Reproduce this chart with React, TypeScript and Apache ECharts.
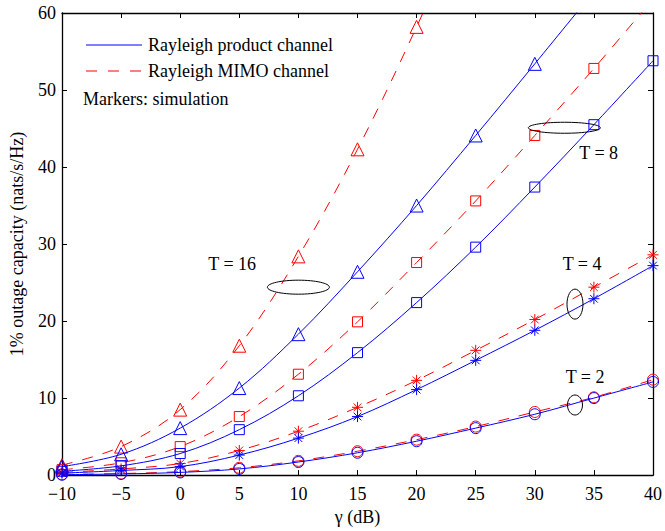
import React, { useEffect, useRef } from 'react';
import * as echarts from 'echarts';

// SNR grid (dB)
const gamma = [-10, -5, 0, 5, 10, 15, 20, 25, 30, 35, 40];

// 1% outage capacity (nats/s/Hz)
const productT2 = [0.05, 0.15, 0.35, 0.8, 1.7, 2.9, 4.4, 6.1, 7.9, 10.0, 12.1];
const mimoT2 = [0.1, 0.2, 0.45, 0.95, 1.85, 3.1, 4.6, 6.3, 8.2, 10.1, 12.4];
const productT4 = [0.25, 0.6, 1.1, 2.6, 4.8, 7.6, 11.1, 14.9, 18.8, 22.9, 27.2];
const mimoT4 = [0.35, 0.8, 1.5, 3.2, 5.7, 8.8, 12.3, 16.2, 20.2, 24.4, 28.6];
const productT8 = [0.5, 1.2, 2.8, 5.9, 10.3, 15.9, 22.4, 29.6, 37.4, 45.5, 53.8];
const mimoT8 = [0.7, 1.6, 3.7, 7.6, 13.1, 19.9, 27.6, 35.6, 44.1, 52.8, 61.8];
const productT16 = [1.1, 2.7, 6.1, 11.3, 18.3, 26.4, 35.0, 44.1, 53.4, 62.8, null];
const mimoT16 = [1.3, 3.7, 8.5, 16.8, 28.4, 42.3, 58.2, 75.5, null, null, null];

const xTicks = { min: -10, max: 40, interval: 5 };
const yTicks = { min: 0, max: 60, interval: 10 };

const legendNames = ['Rayleigh product channel', 'Rayleigh MIMO channel'];
const noteText = 'Markers: simulation';

// annotation ellipses: label, centre (gamma, capacity), label position (gamma, capacity)
const annotations = [
  { label: 'T = 16', c: [10.0, 24.4], rx: 31, ry: 7, t: [4.4, 27.4] },
  { label: 'T = 8', c: [32.5, 45.1], rx: 36, ry: 5.5, t: [35.4, 41.8] },
  { label: 'T = 4', c: [33.4, 22.2], rx: 8, ry: 15, t: [34.0, 27.4] },
  { label: 'T = 2', c: [33.4, 9.1], rx: 7.5, ry: 10, t: [34.25, 12.7] },
];

const BLUE = '#0000ff';
const RED = '#ff0000';
const DASH = [11, 10];
const FONT = "'Liberation Serif', 'Times New Roman', serif";
const ASTERISK = 'path://M5,0L5,10M0,5L10,5M1.5,1.5L8.5,8.5M1.5,8.5L8.5,1.5';

export default function App() {
  const ref = useRef<HTMLDivElement>(null);

  useEffect(() => {
    const chart = echarts.init(ref.current!, null, { renderer: 'svg' });

    const mk = (name: string, values: (number | null)[], color: string, dashed: boolean, symbol: string, size: number) => ({
      name,
      type: 'line',
      data: gamma.map((g, i) => [g, values[i]]).filter((p) => p[1] !== null),
      smooth: 0.35,
      symbol,
      symbolSize: size,
      showSymbol: true,
      showAllSymbol: true,
      clip: true,
      xAxisIndex: 0,
      yAxisIndex: 0,
      z: dashed ? 2 : 3,
      lineStyle: { color, width: 1, type: dashed ? DASH : 'solid' },
      itemStyle: { color: 'rgba(0,0,0,0)', borderColor: color, borderWidth: 1 },
      emphasis: { disabled: true },
      silent: true,
    });

    const axisCommon = {
      type: 'value',
      axisLine: { show: true, onZero: false, lineStyle: { color: '#000', width: 1.3 } },
      axisTick: { show: true, inside: true, length: 5, lineStyle: { color: '#000', width: 1 } },
      splitLine: { show: false },
    };
    const labelStyle = { color: '#000', fontSize: 18, fontFamily: FONT };

    chart.setOption({
      animation: false,
      backgroundColor: '#fff',
      grid: { left: 61, right: 9, top: 13, bottom: 50, containLabel: false },
      xAxis: [
        {
          ...axisCommon,
          ...xTicks,
          position: 'bottom',
          name: 'γ (dB)',
          nameLocation: 'middle',
          nameGap: 32,
          nameTextStyle: labelStyle,
          axisLabel: {
            ...labelStyle,
            margin: 10,
            formatter: (v: number) => String(v).replace('-', '\u2212'),
          },
        },
        {
          ...axisCommon,
          ...xTicks,
          position: 'top',
          axisLabel: { show: false },
        },
      ],
      yAxis: [
        {
          ...axisCommon,
          ...yTicks,
          position: 'left',
          name: '1% outage capacity (nats/s/Hz)',
          nameLocation: 'middle',
          nameGap: 36,
          nameTextStyle: labelStyle,
          axisLabel: { ...labelStyle, margin: 6 },
        },
        {
          ...axisCommon,
          ...yTicks,
          position: 'right',
          axisLabel: { show: false },
        },
      ],
      series: [
        mk('mimoT2', mimoT2, RED, true, 'circle', 11),
        mk('mimoT4', mimoT4, RED, true, ASTERISK, 11),
        mk('mimoT8', mimoT8, RED, true, 'rect', 10),
        mk('mimoT16', mimoT16, RED, true, 'triangle', 13),
        mk('productT2', productT2, BLUE, false, 'circle', 11),
        mk('productT4', productT4, BLUE, false, ASTERISK, 11),
        mk('productT8', productT8, BLUE, false, 'rect', 10),
        mk('productT16', productT16, BLUE, false, 'triangle', 13),
      ],
    });

    const px = (p: number[]) => chart.convertToPixel({ gridIndex: 0 }, p) as number[];
    const graphics: any[] = [
      { type: 'line', shape: { x1: 86, y1: 45, x2: 142, y2: 45 }, style: { stroke: BLUE, lineWidth: 1 }, silent: true },
      { type: 'text', x: 148, y: 45, style: { text: legendNames[0], fill: '#000', font: `18px ${FONT}`, verticalAlign: 'middle' }, silent: true },
      { type: 'line', shape: { x1: 86, y1: 71, x2: 142, y2: 71 }, style: { stroke: RED, lineWidth: 1, lineDash: [11, 11] }, silent: true },
      { type: 'text', x: 148, y: 71, style: { text: legendNames[1], fill: '#000', font: `18px ${FONT}`, verticalAlign: 'middle' }, silent: true },
      { type: 'text', x: 83, y: 99, style: { text: noteText, fill: '#000', font: `18px ${FONT}`, verticalAlign: 'middle' }, silent: true },
    ];
    annotations.forEach((a) => {
      const c = px(a.c);
      const t = px(a.t);
      graphics.push({
        type: 'ellipse',
        shape: { cx: c[0], cy: c[1], rx: a.rx, ry: a.ry },
        style: { fill: 'none', stroke: '#000', lineWidth: 1 },
        z: 10,
        silent: true,
      });
      graphics.push({
        type: 'text',
        x: t[0],
        y: t[1],
        style: { text: a.label, fill: '#000', font: `18px ${FONT}`, align: 'center', verticalAlign: 'middle' },
        z: 10,
        silent: true,
      });
    });
    chart.setOption({ graphic: graphics });

    return () => chart.dispose();
  }, []);

  return (
    <div
      ref={ref}
      style={{ position: 'fixed', left: 0, top: 0, width: 665, height: 531, background: '#fff' }}
    />
  );
}
